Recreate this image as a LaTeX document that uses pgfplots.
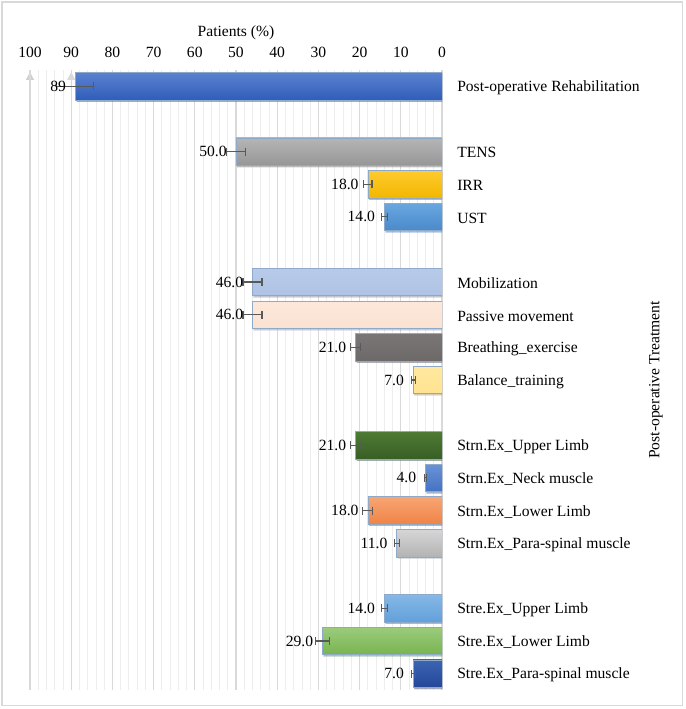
\documentclass[border=0pt]{standalone}
\usepackage{pgfplots}
\pgfplotsset{compat=1.18}
\usepackage{fontspec}
\setmainfont{Liberation Serif}
\usetikzlibrary{arrows.meta,shadows}
\definecolor{gmaj}{HTML}{D9D9D9}
\definecolor{garr}{HTML}{CFCFCF}
\definecolor{gmin}{HTML}{EDEDED}
\definecolor{bord}{HTML}{8FA9C8}
\definecolor{errc}{HTML}{595959}
\definecolor{c1t}{HTML}{5B82D0}\definecolor{c1b}{HTML}{2F5DB9}
\definecolor{c2t}{HTML}{B5B5B5}\definecolor{c2b}{HTML}{979797}
\definecolor{c3t}{HTML}{FFCB2E}\definecolor{c3b}{HTML}{F2B700}
\definecolor{c4t}{HTML}{6AA7E0}\definecolor{c4b}{HTML}{4A8ACB}
\definecolor{c5t}{HTML}{B8CAE9}\definecolor{c5b}{HTML}{AFC3E5}
\definecolor{c6t}{HTML}{FCE8DA}\definecolor{c6b}{HTML}{FAE2D2}
\definecolor{c7t}{HTML}{7B7676}\definecolor{c7b}{HTML}{6E6969}
\definecolor{c8t}{HTML}{FFE8A0}\definecolor{c8b}{HTML}{FFE38F}
\definecolor{c9t}{HTML}{4E7B34}\definecolor{c9b}{HTML}{385F25}
\definecolor{c10t}{HTML}{6A93D6}\definecolor{c10b}{HTML}{4472C4}
\definecolor{c11t}{HTML}{F8A574}\definecolor{c11b}{HTML}{EF8446}
\definecolor{c12t}{HTML}{D6D6D6}\definecolor{c12b}{HTML}{B3B3B3}
\definecolor{c13t}{HTML}{86B8E6}\definecolor{c13b}{HTML}{62A0DA}
\definecolor{c14t}{HTML}{9BCB7B}\definecolor{c14b}{HTML}{78B450}
\definecolor{c15t}{HTML}{3C64B2}\definecolor{c15b}{HTML}{24469A}
\newcommand{\fs}{\fontsize{11.7}{14}\selectfont}
\begin{document}
\begin{tikzpicture}
\path[use as bounding box] (-22.5pt,-14.25pt) rectangle (491.25pt,517.5pt);
\draw[gmaj, line width=1.1pt] (-21pt,-11.5pt) rectangle (489.5pt,516pt);
\begin{axis}[
  at={(0,0)}, anchor=south west,
  scale only axis, width=309pt, height=465pt,
  x dir=reverse,
  xmin=0, xmax=100, ymin=-0.5, ymax=18.5,
  xtick={100}, xticklabels={}, ytick=\empty,
  major tick length=0pt,
  axis line style={draw=none},
  xmajorgrids,
  major grid style={garr, line width=0.9pt, -{Triangle[width=6pt,length=6pt]}, shorten >=1.5pt},
]
\end{axis}
\begin{axis}[
  at={(0,0)}, anchor=south west,
  scale only axis, width=309pt, height=465pt,
  xbar, bar shift=0pt, bar width=0.84,
  x dir=reverse,
  xmin=0, xmax=100, ymin=-0.5, ymax=18.5,
  xtick={0,10,...,100},
  extra x ticks={89.99}, extra x tick labels={},
  extra tick style={grid style={garr, line width=0.9pt, -{Triangle[width=6pt,length=6pt]}, shorten >=1.5pt}},
  minor x tick num=4,
  xticklabel pos=upper,
  yticklabel pos=right,
  ytick={18,16,15,14,12,11,10,9,7,6,5,4,2,1,0},
  yticklabels={Post-operative Rehabilitation,TENS,IRR,UST,Mobilization,Passive movement,Breathing\_exercise,Balance\_training,Strn.Ex\_Upper Limb,Strn.Ex\_Neck muscle,Strn.Ex\_Lower Limb,Strn.Ex\_Para-spinal muscle,Stre.Ex\_Upper Limb,Stre.Ex\_Lower Limb,Stre.Ex\_Para-spinal muscle},
  major tick length=0pt, minor tick length=0pt,
  axis line style={draw=none},
  xmajorgrids, xminorgrids,
  major grid style={gmaj, line width=0.9pt},
  minor grid style={gmin, line width=0.6pt},
  /pgf/number format/assume math mode=true,
  every tick label/.append style={font=\fs},
  xticklabel style={anchor=base, inner sep=0pt, yshift=9pt},
  yticklabel style={anchor=west, inner sep=0pt, xshift=11.25pt, yshift=-1pt},
  xlabel={Patients (\%)},
  xlabel style={font=\fs, at={(axis description cs:0.5,1.06)}, anchor=center},
  ylabel={Post-operative Treatment},
  ylabel style={font=\fs, at={(axis description cs:1.519,0.5)}, anchor=center},
  point meta=explicit symbolic,
  nodes near coords,
  every node near coord/.append style={font=\fs, anchor=east, inner sep=0pt, xshift=-6.75pt, text=black},
  error bars/x dir=both, error bars/x explicit,
  error bars/error mark=|,
  error bars/error bar style={errc, line width=0.9pt},
  error bars/error mark options={errc, mark size=3pt, line width=0.9pt},
  bb/.style={draw=bord, line width=0.5pt, top color=#1t, bottom color=#1b,
    drop shadow={shadow xshift=0.9pt, shadow yshift=-1.2pt, fill=black, opacity=0.22}},
]
\addplot[bb=c1] table[x=v,y=p,x error=e,meta=l]{
v p e l
89 18 4.5 89
};
\addplot[bb=c2] table[x=v,y=p,x error=e,meta=l]{
v p e l
50 16 2.4 50.0
};
\addplot[bb=c3] table[x=v,y=p,x error=e,meta=l]{
v p e l
18 15 1.0 18.0
};
\addplot[bb=c4] table[x=v,y=p,x error=e,meta=l]{
v p e l
14 14 0.75 14.0
};
\addplot[bb=c5] table[x=v,y=p,x error=e,meta=l]{
v p e l
46 12 2.3 46.0
};
\addplot[bb=c6] table[x=v,y=p,x error=e,meta=l]{
v p e l
46 11 2.3 46.0
};
\addplot[bb=c7] table[x=v,y=p,x error=e,meta=l]{
v p e l
21 10 1.2 21.0
};
\addplot[bb=c8] table[x=v,y=p,x error=e,meta=l]{
v p e l
7 9 0.5 7.0
};
\addplot[bb=c9] table[x=v,y=p,x error=e,meta=l]{
v p e l
21 7 1.2 21.0
};
\addplot[bb=c10] table[x=v,y=p,x error=e,meta=l]{
v p e l
4 6 0.2 4.0
};
\addplot[bb=c11] table[x=v,y=p,x error=e,meta=l]{
v p e l
18 5 1.2 18.0
};
\addplot[bb=c12] table[x=v,y=p,x error=e,meta=l]{
v p e l
11 4 0.6 11.0
};
\addplot[bb=c13] table[x=v,y=p,x error=e,meta=l]{
v p e l
14 2 0.75 14.0
};
\addplot[bb=c14] table[x=v,y=p,x error=e,meta=l]{
v p e l
29 1 1.7 29.0
};
\addplot[bb=c15] table[x=v,y=p,x error=e,meta=l]{
v p e l
7 0 0.5 7.0
};
\end{axis}
\end{tikzpicture}
\end{document}
